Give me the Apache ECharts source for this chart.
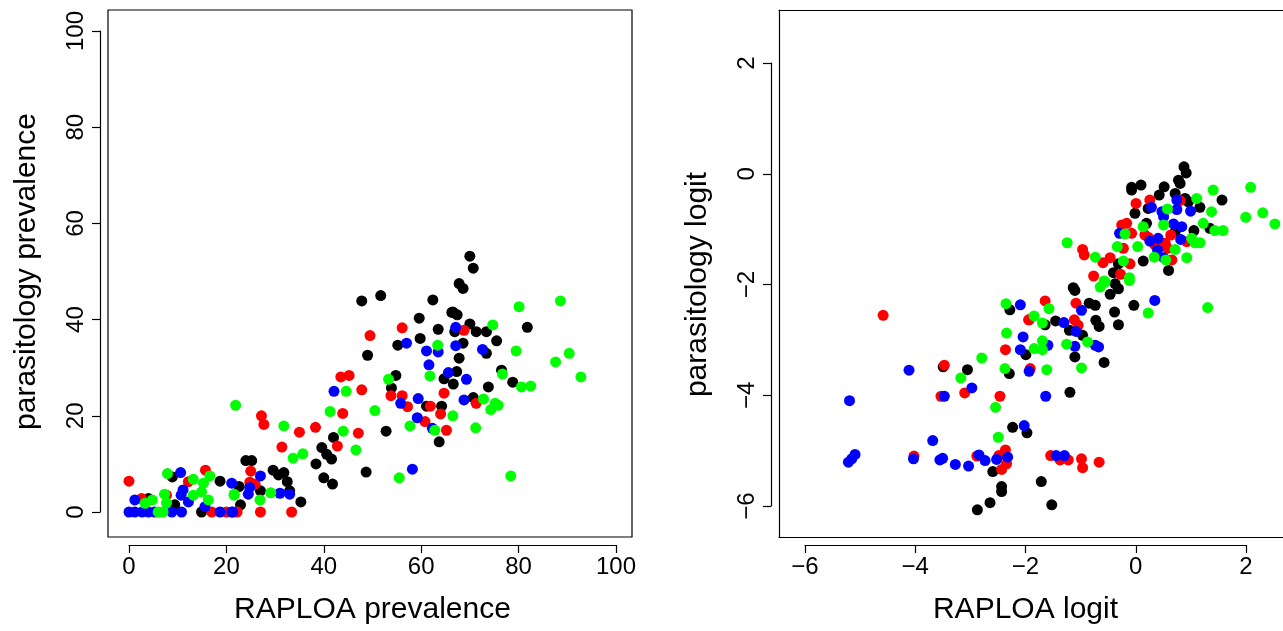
<!DOCTYPE html>
<html>
<head>
<meta charset="utf-8">
<script src="https://cdn.jsdelivr.net/npm/echarts@6/dist/echarts.min.js"></script>
<style>
html,body{margin:0;padding:0;background:#fff;}
#c{width:1283px;height:631px;}
</style>
</head>
<body>
<div id="c"></div>
<script>
// ---------- data: left panel (prevalence, %) ----------
var prevBlack = [[8.9,7.3],[18.7,6.4],[14.9,0],[24,10.7],[25.2,10.7],[29.6,8.7],[30.7,7.7],[31.8,8.2],[32.5,6.3],[22.6,5.3],[27,4.4],[33,4.4],[35.3,2.1],[22.9,1.5],[42,15.5],[39.6,13.4],[40.6,12.0],[41.6,11.0],[38.4,10.0],[40,7.1],[41.8,5.8],[47.8,43.9],[51.7,45.0],[62.4,44.1],[66.3,41.5],[59.6,40.3],[63.5,38.0],[59.8,36.1],[55.2,34.7],[49,32.6],[64.7,27.7],[54.8,28.4],[53.9,25.8],[61.1,22.0],[64.2,22.0],[63.7,14.6],[52.8,16.8],[48.7,8.3],[70,53.2],[70.7,50.7],[67.8,47.5],[68.6,46.5],[66.5,41.6],[67.4,41.0],[70,39.1],[81.8,38.4],[66.9,37.5],[71.3,37.5],[73.4,37.5],[75.5,35.6],[68.6,35.1],[73.4,33.0],[67.8,32.0],[67.3,29.2],[76.5,29.5],[78.8,27.0],[66.6,26.6],[73.8,26.0],[70.7,23.8],[4,2.8],[9.4,1.5]];
var prevRed = [[0,6.4],[15.7,8.7],[12.2,6.3],[2.6,2.8],[7.7,3.5],[17,0],[20,0],[27.2,20.0],[27.7,18.2],[35,16.6],[38.3,17.6],[43.9,20.5],[42.8,13.7],[31.4,13.5],[25,8.5],[24.8,6.2],[25.9,5.8],[27,0],[33.4,0],[22.2,0],[56.1,38.3],[49.5,36.7],[43.5,28.1],[45.2,28.4],[47.8,25.4],[53.8,24.2],[56.1,24.2],[64.7,24.7],[57.2,21.9],[61.9,22.0],[64,20.4],[60.8,18.8],[65.2,17.0],[47.1,16.4],[68.8,37.8],[71.3,22.6]];
var prevBlue = [[10.6,8.2],[21.1,6.0],[11.1,4.6],[10.7,3.5],[1.2,2.5],[12.2,2.1],[15.6,1.1],[0,0],[1.2,0],[2.7,0],[4,0],[5.3,0],[8.8,0],[10.8,0],[18.7,0],[21.1,0],[27,7.5],[24.8,5.1],[24.5,3.7],[31,3.9],[33,3.7],[21.3,0],[57,35.1],[61.1,33.5],[63.5,33.3],[61.6,30.6],[65.6,29.0],[42.1,25.1],[59.4,23.6],[55.8,22.6],[59.2,19.6],[62.3,17.4],[58.2,8.9],[67.1,38.4],[67.1,34.6],[72.6,33.8],[69.3,27.6],[68.8,23.3]];
var prevGreen = [[7.9,8.0],[16.6,7.5],[13.2,6.8],[15.3,6.0],[14.9,4.2],[21.6,3.5],[7.3,3.7],[13.2,3.5],[16.3,2.5],[4.8,2.5],[3.3,1.8],[7.7,1.9],[6,0],[7,0],[21.9,22.2],[31.8,17.9],[41.3,20.9],[44,16.8],[33.7,11.2],[35.7,12.1],[29.1,4.0],[21.6,3.7],[26.9,2.5],[63.4,34.7],[61.8,28.3],[53.3,27.6],[44.6,25.1],[50.5,21.1],[57.7,17.9],[62.8,17.0],[46.6,12.9],[55.5,7.1],[80.1,42.7],[88.6,43.9],[74.7,38.9],[79.5,33.5],[90.4,33.0],[87.6,31.2],[76.7,28.7],[92.8,28.1],[80.6,26.0],[82.5,26.2],[72.8,23.5],[75.2,22.6],[75.8,22.2],[74.3,21.3],[66.5,20.0],[71.2,17.5],[78.4,7.5]];

// ---------- data: right panel (logit) ----------
var logitBlack = [[-2.6,-5.37],[-2.44,-5.64],[-2.44,-5.73],[-2.65,-5.93],[-2.88,-6.06],[-2.24,-4.57],[-1.98,-4.67],[-3.06,-3.53],[-3.5,-3.48],[-2.3,-3.6],[-2.0,-3.26],[-2.29,-2.45],[-1.11,-2.1],[-0.38,-1.98],[-0.32,-2.07],[-0.47,-2.17],[-0.85,-2.33],[-0.74,-2.37],[-0.04,-2.37],[-0.39,-2.49],[-0.32,-2.72],[-1.65,-2.72],[-1.46,-2.65],[-1.21,-2.82],[-0.97,-2.91],[-0.73,-2.64],[-0.67,-2.75],[-1.11,-3.30],[-0.58,-3.40],[-1.2,-3.94],[0.87,0.13],[0.91,0.02],[-0.08,-0.24],[0.09,-0.2],[0.51,-0.23],[0.77,-0.11],[0.8,-0.17],[0.42,-0.38],[0.71,-0.35],[-0.02,-0.71],[0.22,-0.62],[0.89,-0.44],[0.95,-0.5],[1.16,-0.6],[1.56,-0.47],[1.34,-0.98],[1.05,-1.02],[0.19,-0.89],[0.13,-1.57],[0.59,-1.74],[-0.32,-1.62],[-0.41,-1.78],[-1.14,-2.05],[-1.72,-5.55],[-1.53,-5.97],[-0.08,-0.29],[0.71,-1.04]];
var logitRed = [[-4.59,-2.55],[-4.03,-5.09],[-2.89,-5.09],[-2.49,-5.08],[-2.37,-4.98],[-2.35,-5.23],[-2.44,-5.33],[-2.47,-4.01],[-3.54,-4.01],[-3.11,-3.95],[-3.48,-3.45],[-2.37,-3.17],[-1.95,-2.63],[-1.65,-2.29],[-1.09,-2.33],[-1.94,-2.63],[-1.12,-2.63],[-1.05,-2.73],[-1.92,-3.51],[0.25,-0.47],[0,-0.53],[0.8,-0.48],[-0.26,-0.92],[-0.17,-0.89],[-0.08,-1.07],[0.63,-1.1],[0.16,-1.1],[0.22,-1.14],[0.92,-1.22],[0.53,-1.25],[0.57,-1.34],[0.34,-1.28],[-0.23,-1.34],[0.65,-1.55],[-0.97,-1.36],[-0.94,-1.46],[-0.6,-1.6],[-0.47,-1.51],[-0.11,-1.62],[-0.28,-1.81],[-0.77,-1.84],[-1.55,-5.08],[-1.38,-5.16],[-1.23,-5.16],[-0.99,-5.14],[-0.97,-5.3],[-0.67,-5.2]];
var logitBlue = [[-4.12,-3.54],[-5.2,-4.09],[-5.22,-5.2],[-5.16,-5.14],[-5.1,-5.06],[-4.04,-5.14],[-3.69,-4.81],[-3.56,-5.16],[-3.51,-5.13],[-3.28,-5.24],[-3.04,-5.27],[-2.85,-5.07],[-2.74,-5.17],[-2.53,-5.15],[-2.33,-5.11],[-2.03,-4.54],[-3.48,-4.01],[-2.98,-3.86],[-2.1,-3.17],[-2.05,-2.94],[-2.1,-2.36],[-1.94,-3.56],[-0.99,-2.46],[-1.31,-2.68],[-1.09,-2.84],[-0.74,-3.09],[-0.68,-3.12],[-1.11,-3.11],[-1.6,-3.09],[-1.64,-4.01],[0.28,-0.6],[0.74,-0.47],[0.99,-0.67],[0.47,-0.68],[0.5,-0.77],[0.74,-0.64],[-0.3,-1.07],[0.68,-0.9],[0.83,-0.95],[0.25,-1.21],[0.4,-1.16],[0.81,-1.18],[0.39,-1.37],[0.5,-1.51],[0.34,-2.28],[-1.45,-5.08],[-1.3,-5.08]];
var logitGreen = [[-2.5,-4.75],[-2.55,-4.21],[-3.18,-3.68],[-2.8,-3.32],[-2.38,-3.51],[-2.35,-2.87],[-2.36,-2.34],[-0.65,-2.04],[-0.56,-1.95],[-0.12,-1.92],[-1.58,-2.43],[0.22,-2.51],[-1.85,-2.56],[-1.7,-2.69],[-0.88,-3.03],[-1.26,-3.07],[-0.99,-3.5],[-1.7,-3.01],[-1.85,-3.15],[-1.7,-3.17],[-1.62,-3.53],[1.1,-0.44],[0.57,-0.63],[1.4,-0.29],[2.08,-0.24],[1.37,-0.68],[2.3,-0.7],[1.99,-0.78],[2.52,-0.9],[1.22,-0.89],[1.43,-1.02],[1.58,-1.02],[-0.2,-1.08],[0.13,-0.95],[0.5,-0.92],[1.01,-1.16],[1.07,-1.24],[1.16,-1.24],[0.71,-1.36],[0.03,-1.31],[-0.34,-1.31],[0.92,-1.51],[0.33,-1.5],[0.54,-1.55],[-0.74,-1.5],[-0.23,-1.57],[-0.12,-1.87],[-0.58,-1.93],[-1.25,-1.24],[1.3,-2.41]];

// tick labels
var prevTicks = [0, 20, 40, 60, 80, 100];
var logitTicks = [-6, -4, -2, 0, 2];

var FONT = 'Liberation Sans, Arial, Helvetica, sans-serif';
var TICK_FS = 24, TITLE_FS = 30;
var COLORS = {black:'#000000', red:'#ff0000', blue:'#0000ff', green:'#00ff00'};
var LINE = {color:'#000', width:1.2};
function minus(v){ return String(v).replace('-', '\u2212'); }

var chart = echarts.init(document.getElementById('c'), null, {renderer:'canvas'});

var grids = [
  // 0: left plot box
  {left:108, top:10, width:524, height:527, show:true, borderColor:'#000', borderWidth:1.2, backgroundColor:'transparent'},
  // 1: right plot region (cut by the right edge of the picture; box drawn by axis lines)
  {left:779, top:10, width:504, height:527, show:false},
  // 2: left x-axis strip (0..100)
  {left:129, top:537, width:487, height:8},
  // 3: left y-axis strip (0..100)
  {left:100, top:31, width:8, height:481},
  // 4: right x-axis strip (-6..2)
  {left:805, top:537, width:441, height:8},
  // 5: right y-axis strip (-6..2)
  {left:771, top:63, width:8, height:443}
];

function hiddenAxis(gi, min, max){
  return {type:'value', gridIndex:gi, min:min, max:max, show:false, splitLine:{show:false}};
}
function edgeAxis(gi, min, max, pos){
  return {type:'value', gridIndex:gi, min:min, max:max, position:pos, show:true,
    axisLine:{show:true, onZero:false, lineStyle:LINE}, axisTick:{show:false}, axisLabel:{show:false},
    splitLine:{show:false}};
}
function shownAxis(gi, min, max, interval, pos, name, gap, isY){
  return {
    type:'value', gridIndex:gi, min:min, max:max, interval:interval, position:pos,
    name:name, nameLocation:'middle', nameGap:gap,
    nameTextStyle:{fontFamily:FONT, fontSize:TITLE_FS, color:'#000'},
    axisLine:{show:true, onZero:false, lineStyle:LINE},
    axisTick:{show:true, inside:false, length:8, lineStyle:LINE},
    axisLabel:{show:true, fontFamily:FONT, fontSize:TICK_FS, color:'#000', margin: isY?12:10,
      rotate: isY?90:0, formatter: minus, showMinLabel:true, showMaxLabel:true},
    splitLine:{show:false}
  };
}

var RX = [-6.48, 2.667], RY = [-6.55, 2.96];
var xAxes = [
  hiddenAxis(0, -4.31, 103.3),
  edgeAxis(1, RX[0], RX[1], 'bottom'),
  shownAxis(2, prevTicks[0], prevTicks[prevTicks.length-1], 20, 'bottom', 'RAPLOA prevalence', 50, false),
  hiddenAxis(3, 0, 1),
  shownAxis(4, logitTicks[0], logitTicks[logitTicks.length-1], 2, 'bottom', 'RAPLOA logit', 50, false),
  hiddenAxis(5, 0, 1),
  edgeAxis(1, RX[0], RX[1], 'top')
];
var yAxes = [
  hiddenAxis(0, -5.2, 104.4),
  edgeAxis(1, RY[0], RY[1], 'left'),
  hiddenAxis(2, 0, 1),
  shownAxis(3, prevTicks[0], prevTicks[prevTicks.length-1], 20, 'left', 'parasitology prevalence', 58, true),
  hiddenAxis(4, 0, 1),
  shownAxis(5, logitTicks[0], logitTicks[logitTicks.length-1], 2, 'left', 'parasitology logit', 58, true)
];

function sc(data, color, idx){
  return {type:'scatter', xAxisIndex:idx, yAxisIndex:idx, data:data, symbol:'circle', symbolSize:11,
    itemStyle:{color:color, opacity:1}, emphasis:{disabled:true}, silent:true};
}

chart.setOption({
  animation:false,
  backgroundColor:'#fff',
  grid:grids,
  xAxis:xAxes,
  yAxis:yAxes,
  series:[
    sc(prevBlack, COLORS.black, 0), sc(prevRed, COLORS.red, 0), sc(prevBlue, COLORS.blue, 0), sc(prevGreen, COLORS.green, 0),
    sc(logitBlack, COLORS.black, 1), sc(logitRed, COLORS.red, 1), sc(logitBlue, COLORS.blue, 1), sc(logitGreen, COLORS.green, 1)
  ]
});
</script>
</body>
</html>
